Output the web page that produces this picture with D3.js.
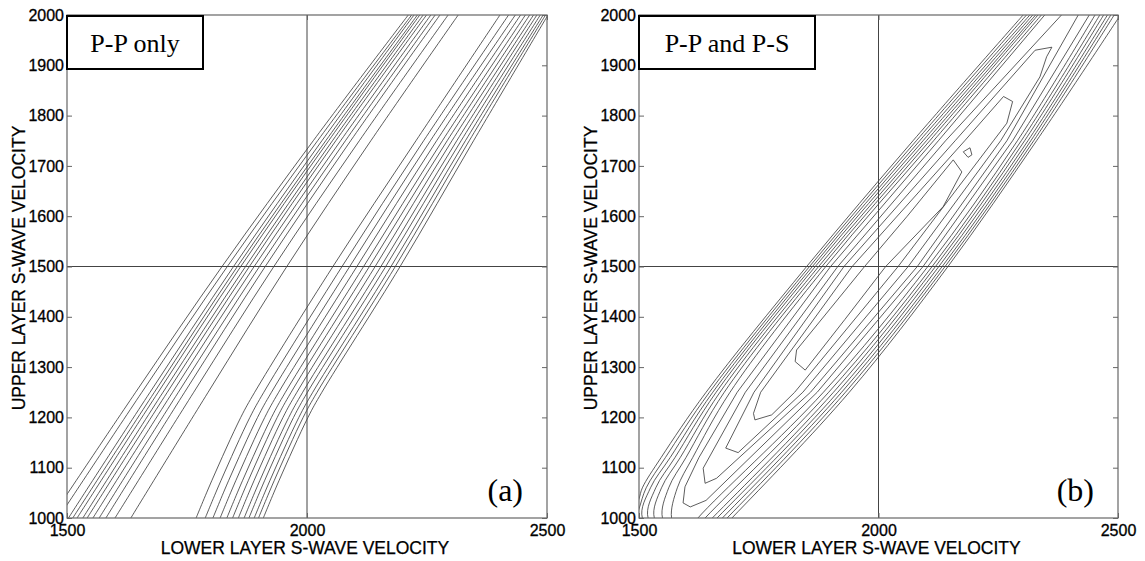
<!DOCTYPE html>
<html>
<head>
<meta charset="utf-8">
<script src="https://cdn.jsdelivr.net/npm/d3@7"></script>
<style>
  body { margin: 0; background: #fff; }
  svg { display: block; }
</style>
</head>
<body>
<svg id="chart" width="1145" height="561"></svg>
<script>
// axis ticks (both panels share the same ranges)
const xTicks = [1500, 2000, 2500];
const yTicks = [1000, 1100, 1200, 1300, 1400, 1500, 1600, 1700, 1800, 1900, 2000];
const crossX = 2000, crossY = 1500;

// panel (a) P-P only: contour lines, [lower Vs, upper Vs]
const ppLeftBand = [
  [[1467, 1000], [1643, 1250], [1823, 1500], [2013, 1750], [2211, 2000]],
  [[1482, 1000], [1656, 1250], [1834, 1500], [2022, 1750], [2218, 2000]],
  [[1503, 1000], [1673, 1250], [1847, 1500], [2031, 1750], [2223, 2000]],
  [[1512, 1000], [1682, 1250], [1855, 1500], [2039, 1750], [2230, 2000]],
  [[1521, 1000], [1690, 1250], [1862, 1500], [2045, 1750], [2235, 2000]],
  [[1533, 1000], [1700, 1250], [1872, 1500], [2053, 1750], [2242, 2000]],
  [[1542, 1000], [1709, 1250], [1880, 1500], [2060, 1750], [2249, 2000]],
  [[1554, 1000], [1720, 1250], [1890, 1500], [2070, 1750], [2258, 2000]],
  [[1567, 1000], [1732, 1250], [1901, 1500], [2080, 1750], [2267, 2000]],
  [[1581, 1000], [1745, 1250], [1913, 1500], [2091, 1750], [2277, 2000]],
  [[1600, 1000], [1764, 1250], [1931, 1500], [2109, 1750], [2294, 2000]],
  [[1633, 1000], [1794, 1250], [1958, 1500], [2133, 1750], [2315, 2000]]
];
const ppRightBand = [
  [[1769, 1000], [1802, 1075], [1862, 1200], [1891, 1250], [2054, 1500], [2227, 1750], [2402, 2000]],
  [[1788, 1000], [1821, 1075], [1881, 1200], [1910, 1250], [2073, 1500], [2243, 1750], [2420, 2000]],
  [[1804, 1000], [1837, 1075], [1897, 1200], [1926, 1250], [2089, 1500], [2257, 1750], [2434, 2000]],
  [[1819, 1000], [1852, 1075], [1912, 1200], [1941, 1250], [2104, 1500], [2270, 1750], [2445, 2000]],
  [[1833, 1000], [1866, 1075], [1926, 1200], [1955, 1250], [2118, 1500], [2282, 1750], [2455, 2000]],
  [[1845, 1000], [1878, 1075], [1938, 1200], [1967, 1250], [2130, 1500], [2292, 1750], [2464, 2000]],
  [[1857, 1000], [1890, 1075], [1950, 1200], [1979, 1250], [2142, 1500], [2302, 1750], [2472, 2000]],
  [[1869, 1000], [1902, 1075], [1962, 1200], [1991, 1250], [2154, 1500], [2312, 1750], [2479, 2000]],
  [[1879, 1000], [1912, 1075], [1972, 1200], [2001, 1250], [2164, 1500], [2321, 1750], [2486, 2000]],
  [[1890, 1000], [1923, 1075], [1983, 1200], [2012, 1250], [2175, 1500], [2330, 1750], [2492, 2000]],
  [[1899, 1000], [1932, 1075], [1992, 1200], [2021, 1250], [2184, 1500], [2338, 1750], [2497, 2000]],
  [[1909, 1000], [1942, 1075], [2002, 1200], [2031, 1250], [2194, 1500], [2347, 1750], [2502, 2000]]
];

// panel (b) P-P and P-S: inner (angular) contours, innermost first
const ppsInner = [
  [[2177, 1728], [2191, 1736], [2195, 1722], [2187, 1717], [2177, 1728]],
  [[1829, 1334], [1900, 1417], [1971, 1500], [2060, 1600], [2156, 1712], [2174, 1688], [2135, 1619],
   [2015, 1500], [1930, 1395], [1847, 1294], [1826, 1311], [1829, 1334]],
  [[1739, 1208], [1754, 1250], [1945, 1500], [2180, 1750], [2261, 1838], [2280, 1828], [2268, 1785],
   [2240, 1750], [2041, 1500], [1825, 1250], [1777, 1205], [1742, 1195], [1739, 1208]],
  [[1681, 1139], [1740, 1250], [1928, 1500], [2160, 1750], [2327, 1930], [2362, 1936], [2351, 1917],
   [2337, 1877], [2255, 1750], [2062, 1500], [1842, 1250], [1707, 1130], [1681, 1139]],
  [[2382, 2000], [2140, 1750], [1915, 1500], [1722, 1250], [1634, 1099], [1638, 1069], [1662, 1079],
   [1858, 1250], [2081, 1500], [2268, 1750], [2417, 2000]],
  [[2347, 2000], [2125, 1750], [1900, 1500], [1705, 1250], [1625, 1120], [1596, 1062], [1592, 1030],
   [1607, 1022], [1640, 1035], [1872, 1250], [2093, 1500], [2280, 1750], [2440, 2000]]
];
// panel (b) outer contours, open at the plot edges
const ppsOuter = [
  [[2340, 2000], [2115, 1750], [1890, 1500], [1690, 1250], [1612, 1120], [1580, 1060], [1568, 1000], [1590, 960],
   [1623, 1000], [1885, 1250], [2103, 1500], [2290, 1750], [2452, 2000]],
  [[2333, 2000], [2107, 1750], [1882, 1500], [1678, 1250], [1598, 1120], [1562, 1060], [1549, 1000], [1590, 950],
   [1638, 1000], [1896, 1250], [2112, 1500], [2298, 1750], [2462, 2000]],
  [[2328, 2000], [2100, 1750], [1875, 1500], [1669, 1250], [1586, 1120], [1547, 1060], [1532, 1000], [1590, 940],
   [1653, 1000], [1906, 1250], [2119, 1500], [2305, 1750], [2470, 2000]],
  [[2322, 2000], [2093, 1750], [1868, 1500], [1661, 1250], [1575, 1120], [1535, 1060], [1519, 1000], [1590, 930],
   [1663, 1000], [1915, 1250], [2126, 1500], [2312, 1750], [2478, 2000]],
  [[2316, 2000], [2086, 1750], [1862, 1500], [1654, 1250], [1565, 1120], [1524, 1060], [1507, 1000], [1590, 920],
   [1674, 1000], [1923, 1250], [2133, 1500], [2318, 1750], [2485, 2000]],
  [[2309, 2000], [2079, 1750], [1856, 1500], [1647, 1250], [1555, 1120], [1515, 1060], [1500, 1018], [1490, 990],
   [1590, 910], [1684, 1000], [1931, 1250], [2139, 1500], [2324, 1750], [2492, 2000]],
  [[2302, 2000], [2072, 1750], [1850, 1500], [1640, 1250], [1546, 1120], [1507, 1060], [1500, 1038], [1485, 1000],
   [1590, 900], [1694, 1000], [1939, 1250], [2145, 1500], [2330, 1750], [2505, 2000]]
];

const svg = d3.select("#chart");
svg.append("rect").attr("width", 1145).attr("height", 561).attr("fill", "#fff");

const plotTop = 15, plotBottom = 518;
const sans = "'Liberation Sans', Arial, Helvetica, sans-serif";
const serif = "'Liberation Serif', 'Times New Roman', serif";

const panels = [
  { id: "a", left: 67, right: 547, boxW: 136, title: "P-P only", tag: "(a)",
    smooth: ppLeftBand.concat(ppRightBand), sharp: [] },
  { id: "b", left: 639, right: 1118, boxW: 176, title: "P-P and P-S", tag: "(b)",
    smooth: ppsOuter, sharp: ppsInner }
];

panels.forEach(p => {
  const x = d3.scaleLinear().domain([1500, 2500]).range([p.left, p.right]);
  const y = d3.scaleLinear().domain([1000, 2000]).range([plotBottom, plotTop]);
  const g = svg.append("g");

  g.append("clipPath").attr("id", "clip-" + p.id)
    .append("rect")
    .attr("x", p.left).attr("y", plotTop)
    .attr("width", p.right - p.left).attr("height", plotBottom - plotTop);

  const smoothLine = d3.line().x(d => x(d[0])).y(d => y(d[1])).curve(d3.curveCatmullRom.alpha(0.5));
  const sharpLine = d3.line().x(d => x(d[0])).y(d => y(d[1]));

  const lines = g.append("g").attr("clip-path", `url(#clip-${p.id})`);
  lines.selectAll("path.smooth")
    .data(p.smooth)
    .join("path")
    .attr("class", "smooth")
    .attr("d", smoothLine)
    .attr("fill", "none")
    .attr("stroke", "#333")
    .attr("stroke-width", 0.8);
  lines.selectAll("path.sharp")
    .data(p.sharp)
    .join("path")
    .attr("class", "sharp")
    .attr("d", sharpLine)
    .attr("fill", "none")
    .attr("stroke", "#333")
    .attr("stroke-width", 0.8);

  // crosshair at the true model
  g.append("line")
    .attr("x1", x(crossX)).attr("x2", x(crossX))
    .attr("y1", plotTop).attr("y2", plotBottom)
    .attr("stroke", "#444").attr("stroke-width", 1);
  g.append("line")
    .attr("x1", p.left).attr("x2", p.right)
    .attr("y1", y(crossY)).attr("y2", y(crossY))
    .attr("stroke", "#444").attr("stroke-width", 1);

  // axes, ticks pointing inward
  const fmt = d3.format("d");
  const axes = [
    g.append("g").attr("transform", `translate(${p.left},0)`)
      .call(d3.axisLeft(y).tickValues(yTicks).tickFormat(fmt).tickSize(-5).tickSizeOuter(0).tickPadding(3)),
    g.append("g").attr("transform", `translate(${p.right},0)`)
      .call(d3.axisRight(y).tickValues(yTicks).tickSize(-5).tickSizeOuter(0).tickFormat("")),
    g.append("g").attr("transform", `translate(0,${plotBottom})`)
      .call(d3.axisBottom(x).tickValues(xTicks).tickFormat(fmt).tickSize(-5).tickSizeOuter(0).tickPadding(7)),
    g.append("g").attr("transform", `translate(0,${plotTop})`)
      .call(d3.axisTop(x).tickValues(xTicks).tickSize(-5).tickSizeOuter(0).tickFormat(""))
  ];
  axes.forEach(a => {
    a.select(".domain").remove();
    a.selectAll(".tick line").attr("stroke", "#666");
    a.selectAll(".tick text")
      .attr("fill", "#000")
      .attr("stroke", "#000").attr("stroke-width", 0.3)
      .style("font-family", sans)
      .style("font-size", "16px");
  });

  g.append("rect")
    .attr("x", p.left).attr("y", plotTop)
    .attr("width", p.right - p.left).attr("height", plotBottom - plotTop)
    .attr("fill", "none").attr("stroke", "#666").attr("stroke-width", 1.2);

  // axis titles
  g.append("text")
    .attr("x", (p.left + p.right) / 2 - 2).attr("y", 554)
    .attr("text-anchor", "middle")
    .attr("stroke", "#000").attr("stroke-width", 0.25)
    .style("font-family", sans).style("font-size", "17.5px")
    .text("LOWER LAYER S-WAVE VELOCITY");
  g.append("text")
    .attr("transform", `translate(${p.left - 42},268) rotate(-90)`)
    .attr("text-anchor", "middle")
    .attr("stroke", "#000").attr("stroke-width", 0.25)
    .style("font-family", sans).style("font-size", "17.5px")
    .text("UPPER LAYER S-WAVE VELOCITY");

  // label box in the upper-left corner
  g.append("rect")
    .attr("x", p.left).attr("y", plotTop + 1)
    .attr("width", p.boxW).attr("height", 53)
    .attr("fill", "#fff").attr("stroke", "#000").attr("stroke-width", 2);
  g.append("text")
    .attr("x", p.left + p.boxW / 2).attr("y", 52)
    .attr("text-anchor", "middle")
    .style("font-family", serif).style("font-size", "26px")
    .text(p.title);

  g.append("text")
    .attr("x", p.right - 24).attr("y", 501)
    .attr("text-anchor", "end")
    .style("font-family", serif).style("font-size", "32px")
    .text(p.tag);
});
</script>
</body>
</html>
